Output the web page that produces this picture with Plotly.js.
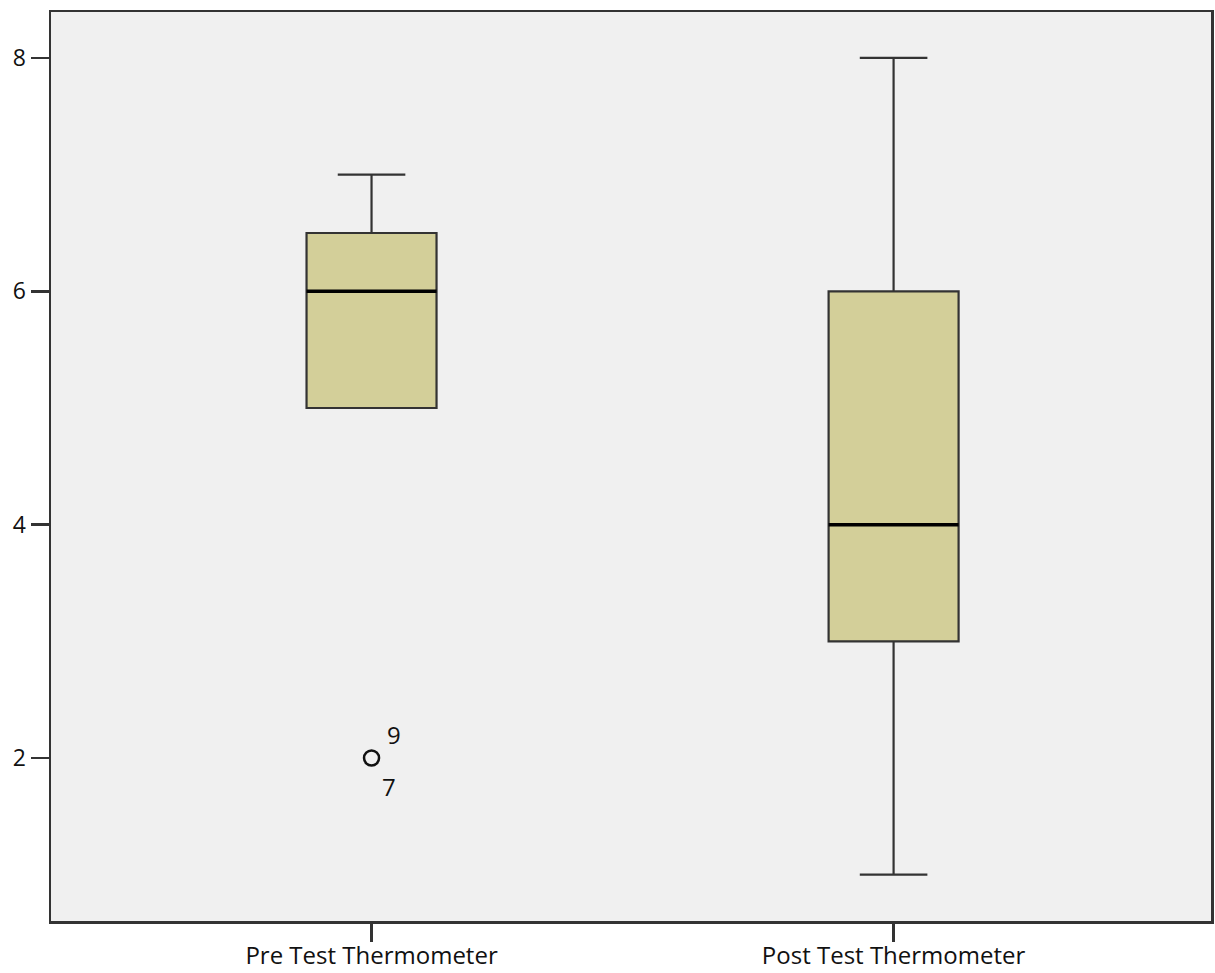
<!DOCTYPE html>
<html>
<head>
<meta charset="utf-8">
<script src="https://cdn.plot.ly/plotly-3.0.1.min.js"></script>
<style>html,body{margin:0;padding:0;background:#fff;}#chart{width:1215px;height:973px;}</style>
</head>
<body>
<div id="chart"></div>
<script>
const categories = ["Pre Test Thermometer", "Post Test Thermometer"];
const lowerWhisker = [5, 1];
const q1 = [5, 3];
const median = [6, 4];
const q3 = [6.5, 6];
const upperWhisker = [7, 8];
const outlierValues = [2];
const outlierCategory = [0];
const outlierLabelsAbove = ["9"];
const outlierLabelsBelow = ["7"];
const yTicks = [2, 4, 6, 8];

const positions = categories.map((c, i) => i);
const boxWidth = 0.249;
const lineColor = "#333333";
const fontFam = "Open Sans, Lato, sans-serif";

const traces = [];
traces.push({
  type: "box",
  x: positions,
  q1: q1,
  median: median,
  q3: q3,
  lowerfence: lowerWhisker,
  upperfence: upperWhisker,
  width: boxWidth,
  whiskerwidth: 0.52,
  fillcolor: "#D3CF99",
  line: {color: lineColor, width: 2.2},
  boxpoints: false,
  hoverinfo: "skip",
  showlegend: false
});
// median emphasis lines
const mx = [], my = [];
positions.forEach((p, i) => {
  mx.push(p - boxWidth / 2, p + boxWidth / 2, null);
  my.push(median[i], median[i], null);
});
traces.push({
  type: "scatter", mode: "lines", x: mx, y: my,
  line: {color: "#000000", width: 3.5}, hoverinfo: "skip", showlegend: false
});
traces.push({
  type: "scatter", mode: "markers",
  x: outlierCategory.map(i => positions[i]), y: outlierValues,
  marker: {symbol: "circle-open", size: 15, color: "#111", line: {width: 2.5, color: "#111"}},
  hoverinfo: "skip", showlegend: false
});

const annotations = [];
outlierValues.forEach((v, k) => {
  const xp = positions[outlierCategory[k]];
  annotations.push({x: xp, y: v, xref: "x", yref: "y", text: outlierLabelsAbove[k], showarrow: false,
    xshift: 22, yshift: 24, font: {family: fontFam, size: 24, color: "#111"}});
  annotations.push({x: xp, y: v, xref: "x", yref: "y", text: outlierLabelsBelow[k], showarrow: false,
    xshift: 17, yshift: -28, font: {family: fontFam, size: 24, color: "#111"}});
});

const layout = {
  width: 1215, height: 973,
  margin: {l: 51, r: 4, t: 12, b: 52, pad: 0},
  paper_bgcolor: "#ffffff",
  plot_bgcolor: "#F0F0F0",
  font: {family: fontFam, size: 24, color: "#111"},
  xaxis: {
    range: [-0.614, 1.608],
    tickvals: positions, ticktext: categories,
    showgrid: false, zeroline: false,
    showline: true, mirror: true, linecolor: lineColor, linewidth: 2.5,
    ticks: "outside", ticklen: 18, tickwidth: 2.5, tickcolor: lineColor,
    ticklabelstandoff: -6,
    tickfont: {size: 24}, fixedrange: true
  },
  yaxis: {
    range: [0.603, 8.394],
    tickvals: yTicks, ticktext: yTicks.map(String),
    showgrid: false, zeroline: false,
    showline: true, mirror: true, linecolor: lineColor, linewidth: 2.5,
    ticks: "outside", ticklen: 18, tickwidth: 2.5, tickcolor: lineColor,
    tickfont: {size: 23}, fixedrange: true
  },
  annotations: annotations,
  showlegend: false
};

Plotly.newPlot("chart", traces, layout, {displayModeBar: false, staticPlot: true});
</script>
</body>
</html>
